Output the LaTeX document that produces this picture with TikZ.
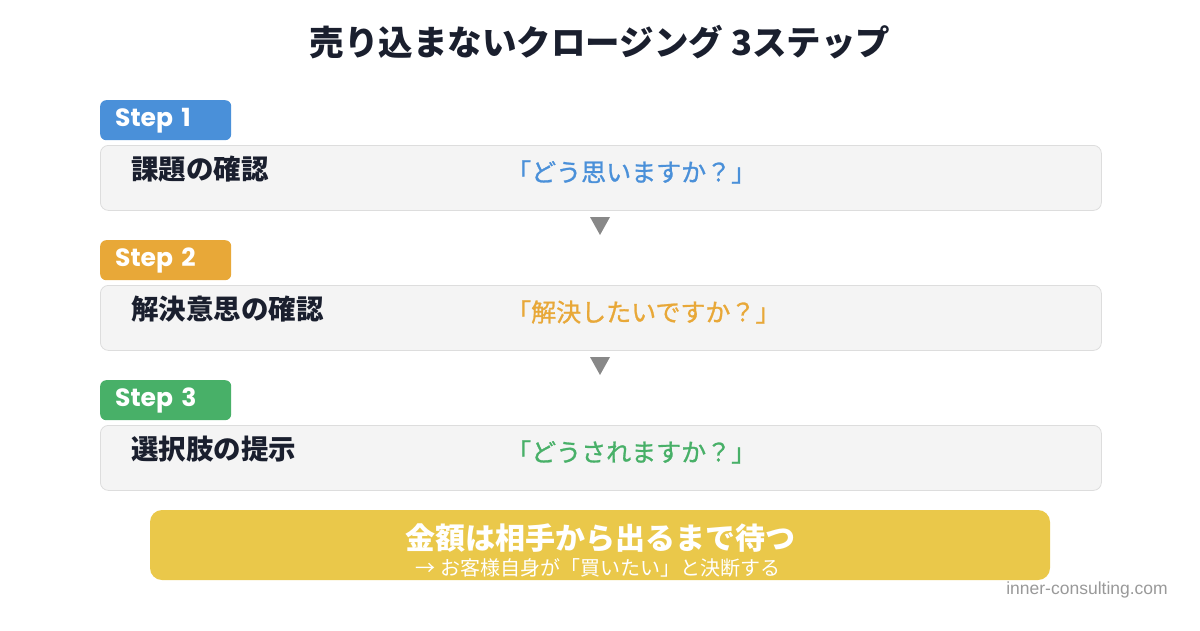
\documentclass[tikz,border=0pt]{standalone}
\usepackage{fontspec}
\setmainfont{Noto Sans CJK JP}
\newfontfamily\stepfont{Poppins}[BoldFont={* Bold}]
\newfontfamily\markfont{Liberation Sans}
\definecolor{stepblue}{HTML}{4A90D9}
\definecolor{steporange}{HTML}{E8A838}
\definecolor{stepgreen}{HTML}{48B068}
\definecolor{boxfill}{HTML}{F4F4F4}
\definecolor{boxline}{HTML}{DDDDDD}
\definecolor{darktext}{HTML}{1A1F2E}
\definecolor{arrowgray}{HTML}{888888}
\definecolor{bannerfill}{HTML}{EAC84A}
\definecolor{markgray}{HTML}{999999}
\begin{document}
\begin{tikzpicture}[x=1pt,y=-1pt,
  badge/.style={anchor=north west, rounded corners=6pt, minimum height=40pt,
    text width=101pt, inner xsep=15pt, inner ysep=0pt, align=left, text=white,
    font=\stepfont\bfseries\fontsize{25}{28}\selectfont},
  stepbox/.style={anchor=north west, rounded corners=8pt, fill=boxfill, draw=boxline,
    line width=0.8pt, minimum width=1001pt, minimum height=65pt, inner sep=0pt},
  steplabel/.style={anchor=west, inner sep=0pt, text=darktext,
    font=\fontsize{27.5}{30}\selectfont\bfseries},
  quote/.style={anchor=west, inner sep=0pt, font=\fontsize{25}{28}\selectfont\addfontfeature{FakeBold=1}},
  downtri/.style={fill=arrowgray},
]
\useasboundingbox (0,0) rectangle (1200,630);
\node[text=darktext, font=\fontsize{34.5}{38}\selectfont\bfseries] (title) at (600,42) {売り込まないクロージング 3ステップ};

% Step 1
\node[badge, fill=stepblue] (b1) at (100,100) {Step 1};
\node[stepbox] (r1) at (100,145) {};
\node[steplabel] (l1) at (131,169) {課題の確認};
\node[quote, text=stepblue] (q1) at (506,172) {「どう思いますか？」};

% Step 2
\node[badge, fill=steporange] (b2) at (100,240) {Step 2};
\node[stepbox] (r2) at (100,285) {};
\node[steplabel] (l2) at (131,309) {解決意思の確認};
\node[quote, text=steporange] (q2) at (506,312) {「解決したいですか？」};

% Step 3
\node[badge, fill=stepgreen] (b3) at (100,380) {Step 3};
\node[stepbox] (r3) at (100,425) {};
\node[steplabel] (l3) at (131,449) {選択肢の提示};
\node[quote, text=stepgreen] (q3) at (506,452) {「どうされますか？」};

% Arrows between steps
\fill[downtri] (590,217) -- (610,217) -- (600,235) -- cycle;
\fill[downtri] (590,357) -- (610,357) -- (600,375) -- cycle;

% Banner
\node[fill=bannerfill, rounded corners=12pt, minimum width=900pt, minimum height=70pt, inner sep=0pt] (banner) at (600,545) {};
\node[text=white, inner sep=0pt, font=\fontsize{30}{34}\selectfont\bfseries] (bmain) at (600,538) {金額は相手から出るまで待つ};
\node[text=white, inner sep=0pt, font=\fontsize{20}{22}\selectfont] (bsub) at (598,568) {→ お客様自身が「買いたい」と決断する};

% Watermark
\node[anchor=east, text=markgray, inner sep=0pt, font=\markfont\fontsize{17.5}{19}\selectfont] (mark) at (1168,590) {inner-consulting.com};
\end{tikzpicture}
\end{document}
